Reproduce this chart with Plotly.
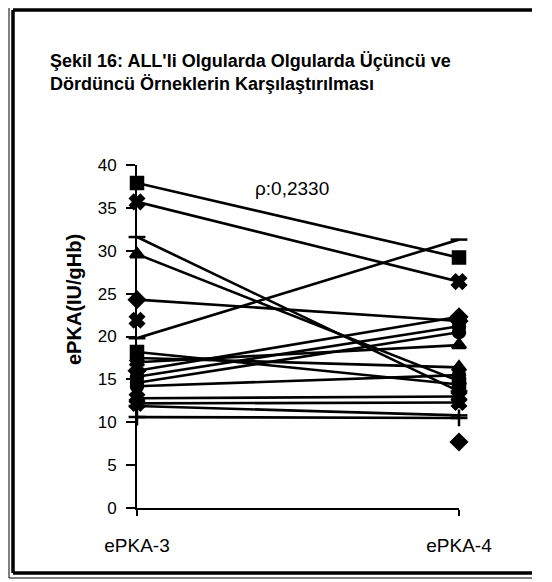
import plotly.graph_objects as go

categories = ["ePKA-3", "ePKA-4"]
y_ticks = [0, 5, 10, 15, 20, 25, 30, 35, 40]

# each case: (ePKA-3, ePKA-4)
epka3 = [37.9, 35.7, 31.6, 29.6, 24.3, 21.9, 19.8, 18.2, 17.5, 17.0, 16.0, 15.3, 14.6, 14.2, 12.8, 12.2, 11.9, 10.6, None]
epka4 = [29.2, 26.4, 13.6, 14.8, 21.8, None, 31.3, 14.4, 16.4, 19.0, 22.3, 21.2, 20.5, 15.5, 13.0, 12.3, 10.8, 10.5, 7.7]
symbols = ["square", "x", "line-ew", "triangle-up", "diamond", "x", "line-ew", "square",
           "triangle-up", "triangle-up", "diamond", "circle", "circle", "circle", "x", "x",
           "line-ew", "cross-thin", "diamond"]
rho_text = "ρ:0,2330"
title_text = "Şekil 16: ALL'li Olgularda Olgularda Üçüncü ve<br>Dördüncü Örneklerin Karşılaştırılması"
y_title = "ePKA(IU/gHb)"

OFF = 8  # page body margin
W, H = 552 - OFF, 582 - OFF
L, R, T, B = 137 - OFF, 459 - OFF, 165 - OFF, 508 - OFF
FONT = "Liberation Sans, Arial"

fig = go.Figure()
for a, b, s in zip(epka3, epka4, symbols):
    fig.add_trace(go.Scatter(
        x=[0, 1], y=[a, b], mode="lines+markers",
        line=dict(color="black", width=2.6),
        marker=dict(symbol=s, size=12, color="black",
                    line=dict(color="black", width=2.5)),
        cliponaxis=False, showlegend=False, hoverinfo="skip"))

def px(x):
    return (x - OFF - L) / (R - L)

def py(y):
    return (B - (y - OFF)) / (B - T)

fig.add_annotation(text=rho_text, x=px(292), y=py(188), xref="paper", yref="paper",
                   xanchor="center", yanchor="middle",
                   showarrow=False, font=dict(size=19, color="black", family=FONT))
fig.add_annotation(text="<b>" + title_text + "</b>", x=px(48), y=py(49),
                   xref="paper", yref="paper", xanchor="left", yanchor="top",
                   align="left", showarrow=False,
                   font=dict(size=18, color="black", family=FONT))
fig.add_annotation(text="<b>" + y_title + "</b>", x=px(74), y=py(300),
                   xref="paper", yref="paper", textangle=-90, showarrow=False,
                   xanchor="center", yanchor="middle",
                   font=dict(size=20, color="black", family=FONT))

# frame (left, top, bottom edges; right edge lies outside the picture)
for x0, y0, x1, y1, w in [(13, 10, 13, 573, 3.5), (13, 10, 532, 10, 3.5),
                          (13, 573, 532, 573, 3.5), (9, 5, 9, 578, 1),
                          (9, 5, 532, 5, 1), (9, 578, 532, 578, 1)]:
    fig.add_shape(type="line", xref="paper", yref="paper",
                  x0=px(x0), x1=px(x1), y0=py(y0), y1=py(y1),
                  line=dict(color="black", width=w))

fig.update_layout(
    width=W, height=H,
    margin=dict(l=L, r=W - R, t=T, b=H - B),
    paper_bgcolor="white", plot_bgcolor="white",
    font=dict(family=FONT, color="black", size=17),
    xaxis=dict(range=[0, 1], tickvals=[0, 1], ticktext=categories,
               showgrid=False, zeroline=False, showline=True,
               linecolor="black", linewidth=2, ticks="outside",
               ticklen=6, tickcolor="black", tickwidth=1.5,
               ticklabelstandoff=13, tickfont=dict(size=19)),
    yaxis=dict(range=[0, 40], tickvals=y_ticks, showgrid=False,
               zeroline=False, showline=True, linecolor="black", linewidth=2,
               ticks="outside", ticklen=9, tickcolor="black", tickwidth=1.5,
               ticklabelstandoff=6, tickfont=dict(size=17)),
)

fig.write_html("out.html")
